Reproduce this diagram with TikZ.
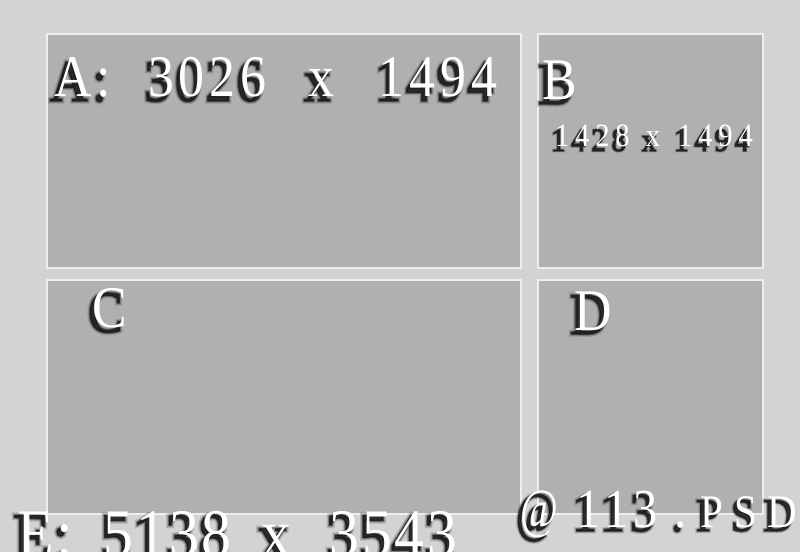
\documentclass[tikz,border=0pt]{standalone}
\usepackage{fontspec}
\setmainfont[FakeStretch=0.88]{Liberation Serif}
\newfontfamily\whitefam[FakeStretch=0.88]{Liberation Serif}
\newfontfamily\shafam[FakeStretch=0.88, FakeBold=2]{Liberation Serif}
\newfontfamily\shbfam[FakeStretch=0.88, FakeBold=5]{Liberation Serif}
\newfontfamily\shcfam[FakeStretch=0.88, FakeBold=9]{Liberation Serif}
\usetikzlibrary{calc}
\newlength\px \setlength\px{0.75pt}
\definecolor{bg}{HTML}{D3D3D3}
\definecolor{panel}{HTML}{B0B0B0}
\definecolor{edge}{HTML}{EEEEEE}
\definecolor{shadowc}{HTML}{1A1A1A}
\newcommand\gp[1]{\hspace*{#1\px}}
\newcommand\fA{\fontsize{44.25pt}{50pt}\selectfont\addfontfeature{LetterSpace=8}}
\newcommand\fB{\fontsize{24.4pt}{28pt}\selectfont\addfontfeature{LetterSpace=18}}
\newcommand\fE{\fontsize{51pt}{56pt}\selectfont\addfontfeature{LetterSpace=4}}
\newcommand\fF{\fontsize{41.25pt}{46pt}\selectfont\addfontfeature{LetterSpace=10}}
\newcommand\fG{\fontsize{35pt}{40pt}\selectfont\addfontfeature{LetterSpace=0}}
\tikzset{
  panelbox/.style={fill=panel, draw=edge, line width=1.5\px},
  lbl/.style={anchor=base west, inner sep=0pt, outer sep=0pt, text=white},
  shd/.style={anchor=base west, inner sep=0pt, outer sep=0pt, text=shadowc}
}
\newcommand\shlabel[4]{%
  \node[shd, text opacity=0.18] (#1-haze) at ($(#2)+(-4,4)$) {\shcfam#3#4};
  \node[shd, text opacity=0.35] (#1-blur) at ($(#2)+(-4,4)$) {\shbfam#3#4};
  \node[shd, text opacity=0.75] (#1-shadow) at ($(#2)+(-4,4)$) {\shafam#3#4};
  \node[lbl] (#1) at (#2) {\whitefam#3#4};}
\begin{document}
\begin{tikzpicture}[x=0.75pt, y=-0.75pt]
\useasboundingbox (0,0) rectangle (800,552);
\fill[bg] (0,0) rectangle (800,552);
\draw[panelbox] (47,34) rectangle (521,268);
\draw[panelbox] (538,34) rectangle (763,268);
\draw[panelbox] (47,280) rectangle (521,514);
\draw[panelbox] (538,280) rectangle (763,514);
\shlabel{la}{54,97}{\fA}{A:\gp{37.6}3026\gp{42}x\gp{44.8}1494}
\shlabel{lb}{542,100}{\fA}{B}
\shlabel{lbs}{555,147}{\fB}{1428\gp{16}x\gp{18}1494}
\shlabel{lc}{92,328}{\fA}{C}
\shlabel{ld}{574,330}{\fA}{D}
\shlabel{le}{17,556}{\fE}{E:\gp{31}5138\gp{30}x\gp{38}3543}
\shlabel{lf}{520,527}{\fF}{\scalebox{0.85}[1]{@}\gp{18.5}113\gp{16.8}.\gp{13}{\fG P\gp{12}S\gp{9.5}D}}
\end{tikzpicture}
\end{document}
